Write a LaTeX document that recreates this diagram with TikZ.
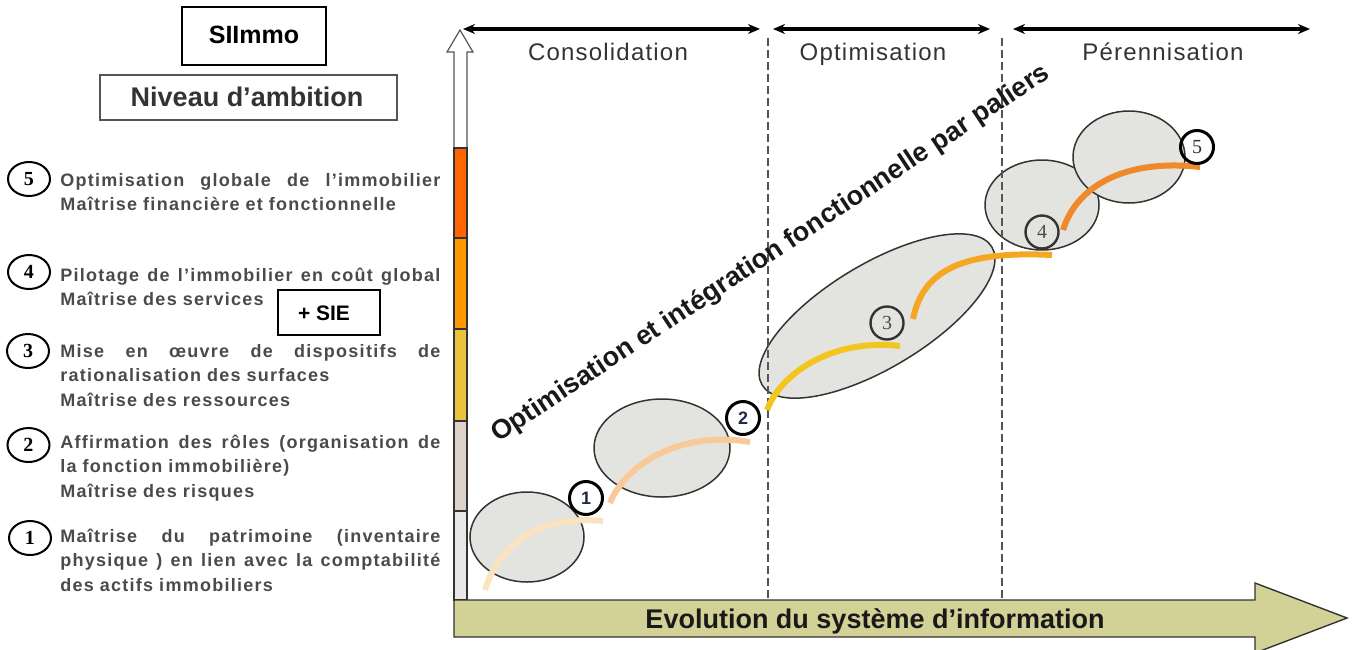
\documentclass[tikz,border=0pt]{standalone}
\usepackage{fontspec}
\setmainfont{Liberation Sans}
\newfontfamily\serifnum{Liberation Serif}
\newfontfamily\lstxt[LetterSpace=7]{Liberation Sans}
\newfontfamily\lshead[LetterSpace=5]{Liberation Sans}
\usetikzlibrary{arrows.meta,shapes.geometric}
\definecolor{ellfill}{HTML}{E3E3DF}
\definecolor{ellline}{HTML}{333333}
\definecolor{txtgray}{HTML}{4A4A4A}
\definecolor{headgray}{HTML}{333333}
\definecolor{axgray}{HTML}{555555}
\definecolor{lvA}{HTML}{E8E8E8}
\definecolor{lvB}{HTML}{DDD3CB}
\definecolor{lvC}{HTML}{E9C43A}
\definecolor{lvD}{HTML}{FF9900}
\definecolor{lvE}{HTML}{FF6600}
\definecolor{arcA}{HTML}{FBE3C0}
\definecolor{arcB}{HTML}{F9C998}
\definecolor{arcC}{HTML}{F2C61F}
\definecolor{arcD}{HTML}{F5A623}
\definecolor{arcE}{HTML}{F0892A}
\definecolor{khaki}{HTML}{D3D296}
\definecolor{navy}{HTML}{1F2A44}
\newcommand{\fullline}[1]{\makebox[190pt][l]{#1}}
\begin{document}
\begin{tikzpicture}[x=0.5pt,y=-0.5pt,
  bub/.style={ellipse, draw=ellline, fill=ellfill, line width=0.75pt, inner sep=0},
  stepnum/.style={circle, draw=black, minimum size=16.5pt, inner sep=0, line width=1.5pt},
  lvl/.style={ellipse, draw=black, line width=1pt, minimum width=21pt, minimum height=17pt, inner sep=0, font=\serifnum\bfseries\fontsize{10pt}{10pt}\selectfont},
  item/.style={anchor=base west, inner sep=0, text width=190pt, align=left, text=txtgray, font=\lstxt\bfseries\fontsize{9pt}{12.25pt}\selectfont},
  phase/.style={anchor=base, inner sep=0, text=headgray, font=\lshead\fontsize{12pt}{12pt}\selectfont},
  span/.style={{Stealth[length=6pt,width=5pt]}-{Stealth[length=6pt,width=5pt]}, line width=1.8pt},
  sep/.style={draw=axgray, line width=0.6pt, dash pattern=on 4pt off 2pt},
  arcline/.style={line width=3pt},
  titlebox/.style={draw=black, line width=1pt, inner sep=0}
]
\useasboundingbox (0,0) rectangle (1352,649);

% ellipses
\node[bub, minimum width=57pt, minimum height=45pt] (e1) at (527,537) {};
\node[bub, minimum width=68pt, minimum height=49pt] (e2) at (662,448) {};
\node[bub, minimum width=134pt, minimum height=52pt, rotate=31] (e3) at (877,316) {};
\node[bub, minimum width=57pt, minimum height=45pt] (e4) at (1042,205) {};
\node[bub, minimum width=56pt, minimum height=46pt] (e5) at (1129,157) {};

% dashed separators
\coordinate (s1t) at (768,38); \coordinate (s1b) at (768,600);
\coordinate (s2t) at (1002,38); \coordinate (s2b) at (1002,600);
\draw[sep] (s1t) -- (s1b);
\draw[sep] (s2t) -- (s2b);

% diagonal label
\node[rotate=33.5, inner sep=0, font=\bfseries\fontsize{13.5pt}{13.5pt}\selectfont, text=black!90] (diag) at (771,254) {Optimisation et intégration fonctionnelle par paliers};

% arcs
\coordinate (a1s) at (485,590); \coordinate (a1e) at (603,521);
\coordinate (a2s) at (610,503); \coordinate (a2e) at (750,442);
\coordinate (a3s) at (767,410); \coordinate (a3e) at (900,346);
\coordinate (a4s) at (913,319); \coordinate (a4e) at (1052,255);
\coordinate (a5s) at (1063,230); \coordinate (a5e) at (1200,167);
\draw[arcline, draw=arcA] (a1s) .. controls (500,540) and (545,515) .. (a1e);
\draw[arcline, draw=arcB] (a2s) .. controls (625,465) and (680,430) .. (a2e);
\draw[arcline, draw=arcC] (a3s) .. controls (780,375) and (830,338) .. (a3e);
\draw[arcline, draw=arcD] (a4s) .. controls (922,275) and (955,250) .. (a4e);
\draw[arcline, draw=arcE] (a5s) .. controls (1075,190) and (1120,158) .. (a5e);

% step numbers
\node[stepnum, fill=white, text=navy, font=\bfseries\fontsize{9pt}{9pt}\selectfont] (c1) at (586,498) {1};
\node[stepnum, fill=white, text=navy, font=\bfseries\fontsize{9pt}{9pt}\selectfont] (c2) at (743,418) {2};
\node[stepnum, draw=headgray, line width=1.2pt, text=txtgray, font=\serifnum\fontsize{10pt}{10pt}\selectfont] (c3) at (887,323) {3};
\node[stepnum, draw=headgray, line width=1.2pt, text=txtgray, font=\serifnum\fontsize{10pt}{10pt}\selectfont] (c4) at (1042,232) {4};
\node[stepnum, text=headgray, font=\serifnum\fontsize{10pt}{10pt}\selectfont] (c5) at (1197,147) {5};

% phase spans
\coordinate (p1a) at (463,29); \coordinate (p1b) at (760,29);
\coordinate (p2a) at (773,29); \coordinate (p2b) at (990,29);
\coordinate (p3a) at (1013,29); \coordinate (p3b) at (1310,29);
\draw[span] (p1a) -- (p1b);
\draw[span] (p2a) -- (p2b);
\draw[span] (p3a) -- (p3b);
\node[phase] (ph1) at (608,60) {Consolidation};
\node[phase] (ph2) at (873,60) {Optimisation};
\node[phase] (ph3) at (1163,60) {Pérennisation};

% vertical ambition scale
\draw[draw=axgray, line width=0.6pt, fill=white] (454,148) -- (454,52) -- (447,52) -- (460,30) -- (473,52) -- (467,52) -- (467,148);
\draw[draw=headgray, line width=0.6pt, fill=lvE] (454,148) rectangle (467,238);
\draw[draw=headgray, line width=0.6pt, fill=lvD] (454,238) rectangle (467,329);
\draw[draw=headgray, line width=0.6pt, fill=lvC] (454,329) rectangle (467,421);
\draw[draw=headgray, line width=0.6pt, fill=lvB] (454,421) rectangle (467,511);
\draw[draw=headgray, line width=0.6pt, fill=lvA] (454,511) rectangle (467,600);

% bottom arrow
\draw[draw=headgray, line width=0.7pt, fill=khaki] (454,600) -- (1255,600) -- (1255,583) -- (1347,618) -- (1255,653) -- (1255,637) -- (454,637) -- cycle;
\node[anchor=base, inner sep=0, text=black!90, font=\bfseries\fontsize{13.5pt}{13.5pt}\selectfont] (evo) at (875,628) {Evolution du système d’information};

% left title boxes
\node[titlebox, minimum width=72pt, minimum height=29pt] (sibox) at (254,36) {};
\node[anchor=base, inner sep=0, font=\bfseries\fontsize{12.5pt}{12.5pt}\selectfont] (sitxt) at (254,43) {SIImmo};
\node[draw=axgray, line width=0.8pt, minimum width=148.5pt, minimum height=22.5pt, inner sep=0] (nvbox) at (248.5,97.5) {};
\node[anchor=base, inner sep=0, text=headgray, font=\bfseries\fontsize{13.5pt}{13.5pt}\selectfont] (nvtxt) at (247,106) {Niveau d’ambition};

% levels
\node[lvl] (l5) at (29,179) {5};
\node[lvl] (l4) at (29,272) {4};
\node[lvl] (l3) at (28,351) {3};
\node[lvl] (l2) at (28.5,445) {2};
\node[lvl] (l1) at (30,538) {1};

\node[item] (t5) at (60,186) {\fullline{Optimisation\hfill globale\hfill de\hfill l’immobilier}\\Maîtrise financière et fonctionnelle};
\node[item] (t4) at (60,281) {\fullline{Pilotage\hfill de\hfill l’immobilier\hfill en\hfill coût\hfill global}\\Maîtrise des services};
\node[item] (t3) at (60,357) {\fullline{Mise\hfill en\hfill œuvre\hfill de\hfill dispositifs\hfill de}\\rationalisation des surfaces\\Maîtrise des ressources};
\node[item] (t2) at (60,448) {\fullline{Affirmation\hfill des\hfill rôles\hfill (organisation\hfill de}\\la fonction immobilière)\\Maîtrise des risques};
\node[item] (t1) at (60,542) {\fullline{Maîtrise\hfill du\hfill patrimoine\hfill (inventaire}\\\fullline{physique\hfill )\hfill en\hfill lien\hfill avec\hfill la\hfill comptabilité}\\des actifs immobiliers};

\node[titlebox, fill=white, minimum width=51pt, minimum height=22.5pt] (siebox) at (329,312.5) {};
\node[anchor=base, inner sep=0, font=\bfseries\fontsize{10.5pt}{10.5pt}\selectfont] (sietxt) at (324,320) {+ SIE};
\end{tikzpicture}
\end{document}
